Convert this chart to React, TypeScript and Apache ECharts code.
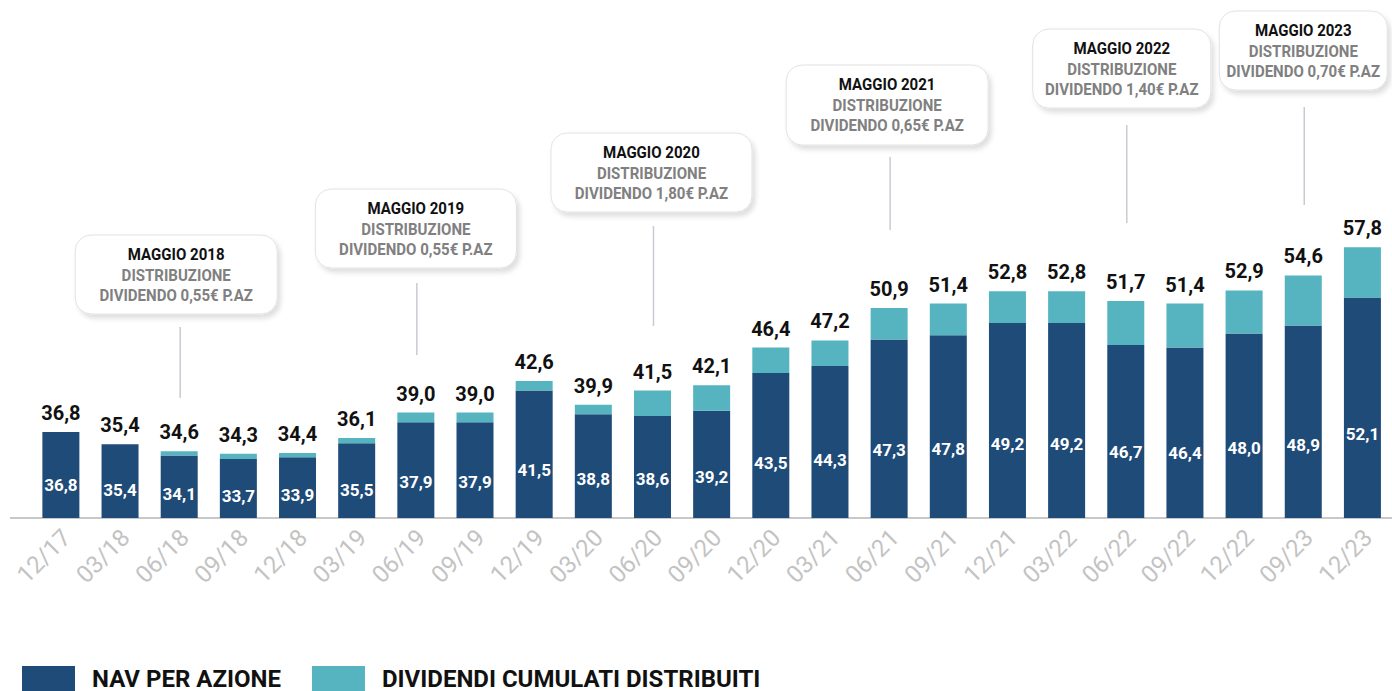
import React, { useEffect, useRef } from "react";
import * as echarts from "echarts";

// ---------- data ----------
const categories = [
  "12/17", "03/18", "06/18", "09/18", "12/18", "03/19", "06/19", "09/19",
  "12/19", "03/20", "06/20", "09/20", "12/20", "03/21", "06/21", "09/21",
  "12/21", "03/22", "06/22", "09/22", "12/22", "09/23", "12/23",
];
const navPerShare = [
  36.8, 35.4, 34.1, 33.7, 33.9, 35.5, 37.9, 37.9, 41.5, 38.8, 38.6, 39.2,
  43.5, 44.3, 47.3, 47.8, 49.2, 49.2, 46.7, 46.4, 48.0, 48.9, 52.1,
];
const navPlusDividends = [
  36.8, 35.4, 34.6, 34.3, 34.4, 36.1, 39.0, 39.0, 42.6, 39.9, 41.5, 42.1,
  46.4, 47.2, 50.9, 51.4, 52.8, 52.8, 51.7, 51.4, 52.9, 54.6, 57.8,
];
const cumulativeDividends = navPlusDividends.map((t, i) =>
  Number((t - navPerShare[i]).toFixed(2))
);
const seriesNames = ["NAV PER AZIONE", "DIVIDENDI CUMULATI DISTRIBUITI"];

const distributionCategories = ["06/18", "06/19", "06/20", "06/21", "06/22", "09/23"];
const distributionTitles = ["MAGGIO 2018", "MAGGIO 2019", "MAGGIO 2020", "MAGGIO 2021", "MAGGIO 2022", "MAGGIO 2023"];
const distributionAmounts = ["0,55€", "0,55€", "1,80€", "0,65€", "1,40€", "0,70€"];

// ---------- layout of the callout boxes (pixels) ----------
const calloutLayout = [
  { boxTop: 235, w: 202, h: 79, dx: -3, lineTop: 327, lineBottom: 398 },
  { boxTop: 189, w: 201, h: 79, dx: 0, lineTop: 283, lineBottom: 355 },
  { boxTop: 133, w: 201, h: 79, dx: -1, lineTop: 226, lineBottom: 326 },
  { boxTop: 65, w: 202, h: 80, dx: -2, lineTop: 157, lineBottom: 230 },
  { boxTop: 29, w: 178, h: 79, dx: -4, lineTop: 125, lineBottom: 223 },
  { boxTop: 11, w: 168, h: 79, dx: 0, lineTop: 107, lineBottom: 205 },
];

const NAVY = "#1f4b79";
const TEAL = "#56b3c0";
const FONT = "Roboto, 'Noto Sans', sans-serif";
const fmt = (v: number) => v.toFixed(1).replace(".", ",");

export default function App() {
  const ref = useRef<HTMLDivElement>(null);

  useEffect(() => {
    if (!ref.current) return;
    const chart = echarts.init(ref.current, null, { renderer: "svg" });
    const option: any = {
      animation: false,
      backgroundColor: "#ffffff",
      textStyle: { fontFamily: FONT },
      grid: { left: 31.3, top: 228, width: 1364.4, height: 290, containLabel: false },
      legend: {
        left: 22,
        top: 666,
        padding: 0,
        icon: "rect",
        itemWidth: 53,
        itemHeight: 25,
        itemGap: 31,
        data: seriesNames,
        textStyle: {
          fontFamily: FONT,
          fontSize: 24,
          lineHeight: 20,
          fontWeight: "bold",
          color: "#111111",
          padding: [0, 0, 2, 12],
        },
      },
      xAxis: {
        type: "category",
        data: categories,
        axisTick: { show: false },
        axisLine: { lineStyle: { color: "#c8c8c8", width: 2 } },
        axisLabel: {
          rotate: 45,
          fontSize: 24,
          lineHeight: 16,
          verticalAlign: "top",
          color: "#c3c3c3",
          margin: 10,
          fontFamily: FONT,
        },
      },
      yAxis: {
        type: "value",
        min: 27,
        max: 60,
        show: false,
        splitLine: { show: false },
      },
      series: [
        {
          name: seriesNames[0],
          type: "bar",
          stack: "total",
          barWidth: 37,
          data: navPerShare,
          itemStyle: { color: NAVY },
          label: {
            show: true,
            position: ["50%", "62%"],
            align: "center",
            verticalAlign: "middle",
            formatter: (p: any) => fmt(p.value),
            color: "#ffffff",
            fontSize: 17,
            fontWeight: "bold",
            fontFamily: FONT,
          },
        },
        {
          name: seriesNames[1],
          type: "bar",
          stack: "total",
          barWidth: 37,
          data: cumulativeDividends,
          itemStyle: { color: TEAL },
          label: {
            show: true,
            position: "top",
            distance: 9,
            formatter: (p: any) => fmt(navPlusDividends[p.dataIndex]),
            color: "#111111",
            fontSize: 20,
            fontWeight: "bold",
            fontFamily: FONT,
          },
        },
      ],
    };
    chart.setOption(option);

    const baseY = chart.convertToPixel({ yAxisIndex: 0 }, 27) as number;
    const graphics: any[] = [
      {
        type: "line",
        shape: { x1: 10, y1: baseY, x2: 32, y2: baseY },
        style: { stroke: "#c8c8c8", lineWidth: 2 },
        z: 1,
      },
    ];
    distributionCategories.forEach((cat, i) => {
      const L = calloutLayout[i];
      const x = chart.convertToPixel({ xAxisIndex: 0 }, cat) as number;
      const cx = x + L.dx;
      graphics.push({
        type: "line",
        shape: { x1: x + 1, y1: L.lineTop, x2: x + 1, y2: L.lineBottom },
        style: { stroke: "#c9cbd2", lineWidth: 1.5 },
        z: 10,
      });
      graphics.push({
        type: "rect",
        shape: { x: cx - L.w / 2, y: L.boxTop, width: L.w, height: L.h, r: 16 },
        style: {
          fill: "#ffffff",
          stroke: "#e2e2e2",
          lineWidth: 1,
          shadowBlur: 5,
          shadowOffsetX: 3,
          shadowOffsetY: 4,
          shadowColor: "rgba(0,0,0,0.13)",
        },
        z: 10,
      });
      const lines = [
        { text: distributionTitles[i], color: "#111111", off: 20 },
        { text: "DISTRIBUZIONE", color: "#808080", off: 41 },
        { text: `DIVIDENDO ${distributionAmounts[i]} P.AZ`, color: "#808080", off: 61 },
      ];
      lines.forEach((ln) => {
        graphics.push({
          type: "text",
          x: cx,
          y: L.boxTop + ln.off,
          scaleX: 0.94,
          z: 11,
          style: {
            text: ln.text,
            fill: ln.color,
            font: `bold 16px ${FONT}`,
            align: "center",
            verticalAlign: "middle",
          },
        });
      });
    });
    chart.setOption({ graphic: graphics });

    return () => chart.dispose();
  }, []);

  return (
    <div
      ref={ref}
      style={{ position: "absolute", left: 0, top: 0, width: 1392, height: 691 }}
    />
  );
}
